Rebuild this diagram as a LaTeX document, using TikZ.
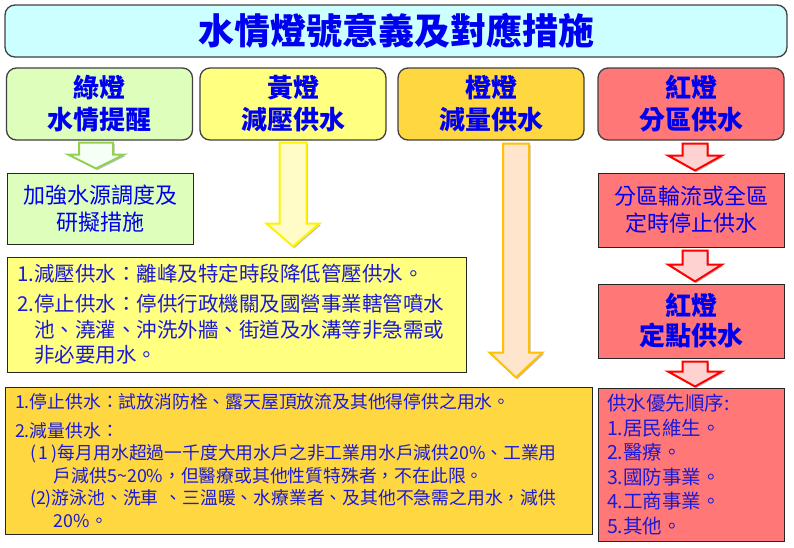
\documentclass[tikz,border=0pt]{standalone}
\usepackage{fontspec}
\setmainfont{Noto Sans CJK TC}
\usetikzlibrary{calc,shadows}

\definecolor{lampcyan}{HTML}{CCFFFF}
\definecolor{lampgreen}{HTML}{DDFFBB}
\definecolor{lampyellow}{HTML}{FFFF80}
\definecolor{lamporange}{HTML}{FFD740}
\definecolor{lampred}{HTML}{FF7777}
\definecolor{headblue}{HTML}{0000F0}
\definecolor{bodyblue}{HTML}{1A1AD8}
\definecolor{edgegray}{HTML}{404040}
\definecolor{arrowgreen}{HTML}{92D050}
\definecolor{arroworange}{HTML}{FFC000}

% block arrow pointing down: style, start, tip, shaft half, head half, head length
\newcommand\downblock[6]{%
  \path[#1] let \p1=(#2), \p2=(#3) in
    (\x1-#4,\y1) -- (\x1+#4,\y1) -- (\x1+#4,\y2+#6) -- (\x1+#5,\y2+#6)
    -- (\x1,\y2) -- (\x1-#5,\y2+#6) -- (\x1-#4,\y2+#6) -- cycle;}

\begin{document}
\begin{tikzpicture}[x=1pt,y=-1pt,
    every node/.style={inner sep=0pt,text=headblue},
    topbox/.style={draw=edgegray,line width=1.3pt,rounded corners=10pt,
      minimum width=186pt,minimum height=72pt,align=center,
      font=\bfseries\fontsize{26}{32}\selectfont},
    midbox/.style={draw=black!85,line width=1pt,minimum width=186pt,
      align=center,font=\fontsize{22}{27}\selectfont},
    notebox/.style={draw=black!85,line width=1pt,align=left,text=bodyblue},
    blockshadow/.style={drop shadow={shadow xshift=1.5pt,shadow yshift=-1.5pt,
      fill=black,opacity=.25}},
    greenarrow/.style={draw=arrowgreen,fill=green!4,line width=2pt,blockshadow},
    yellowarrow/.style={draw=yellow,fill=yellow!22,line width=2pt,blockshadow},
    orangearrow/.style={draw=arroworange,fill=orange!20!white,line width=2pt,blockshadow},
    redarrow/.style={draw=red,fill=pink!70,line width=2pt,blockshadow}]

    \useasboundingbox (0,0) rectangle (794,547);

    % title
    \node[draw=edgegray,line width=1.3pt,rounded corners=10pt,fill=lampcyan,
      minimum width=782pt,minimum height=52pt,
      font=\bfseries\fontsize{36}{42}\selectfont] (title) at (396,31)
      {水情燈號意義及對應措施};

    % the four lamps
    \node[topbox,fill=lampgreen] (gTop) at (99.5,104) {綠燈\\水情提醒};
    \node[topbox,fill=lampyellow] (yTop) at (293,104) {黃燈\\減壓供水};
    \node[topbox,fill=lamporange] (oTop) at (491,104) {橙燈\\減量供水};
    \node[topbox,fill=lampred] (rTop) at (691,104) {紅燈\\分區供水};

    % measures
    \node[midbox,fill=lampgreen,minimum height=71pt] (gBox) at (100,208.5)
      {加強水源調度及\\研擬措施};
    \node[midbox,fill=lampred,minimum height=74pt] (rBox1) at (691,210)
      {分區輪流或全區\\定時停止供水};
    \node[midbox,fill=lampred,minimum height=74pt,
      font=\bfseries\fontsize{26}{30}\selectfont] (rBox2) at (691,321)
      {紅燈\\定點供水};

    \node[notebox,fill=lampyellow,inner xsep=10pt,text width=439pt,
      minimum height=115pt,font=\fontsize{20.5}{25.5}\selectfont] (yBox) at (236.5,314.5)
      {1.減壓供水：離峰及特定時段降低管壓供水。\\[4.5pt]
       2.停止供水：停供行政機關及國營事業轄管噴水\\
       \phantom{2.}池、澆灌、沖洗外牆、街道及水溝等非急需或\\
       \phantom{2.}非必要用水。};

    \node[notebox,fill=lamporange,inner xsep=10pt,text width=567pt,
      minimum height=147pt,font=\fontsize{17.8}{22.5}\selectfont] (oBox) at (298.5,460.5)
      {1.停止供水：試放消防栓、露天屋頂放流及其他得停供之用水。\\[6pt]
       2.減量供水：\\
       \hspace*{15pt}(\,1\,)每月用水超過一千度大用水戶之非工業用水戶減供20\%、工業用\\
       \hspace*{39pt}戶減供5\textasciitilde20\%，但醫療或其他性質特殊者，不在此限。\\
       \hspace*{15pt}(2)游泳池、洗車 、三溫暖、水療業者、及其他不急需之用水，減供\\
       \hspace*{39pt}20\%。};

    \node[notebox,fill=lampred,inner xsep=9pt,text width=168pt,
      minimum height=153pt,font=\fontsize{19.5}{24.6}\selectfont] (rBox3) at (691,464.5)
      {供水優先順序:\\1.居民維生。\\2.醫療。\\3.國防事業。\\4.工商事業。\\5.其他。};

    % arrows
    \downblock{greenarrow}{$(gTop.south)+(-3.5,2)$}{$(gBox.north)+(0,-4)$}{17pt}{28pt}{14pt}
    \downblock{yellowarrow}{$(yTop.south)+(0,2)$}{$(yBox.north)+(0,-10)$}{13.5pt}{26.5pt}{23pt}
    \downblock{orangearrow}{$(oTop.south)+(25,3)$}{$(oBox.north)+(0,-9)$}{13pt}{26.5pt}{25pt}
    \downblock{redarrow}{$(rTop.south)+(4,3)$}{$(rBox1.north)+(0,-2)$}{12.5pt}{27pt}{15pt}
    \downblock{redarrow}{$(rBox1.south)+(4,3)$}{$(rBox2.north)+(0,-2)$}{12.5pt}{27pt}{17pt}
    \downblock{redarrow}{$(rBox2.south)+(4,3)$}{$(rBox3.north)+(0,-1)$}{12.5pt}{27pt}{15pt}
\end{tikzpicture}
\end{document}
